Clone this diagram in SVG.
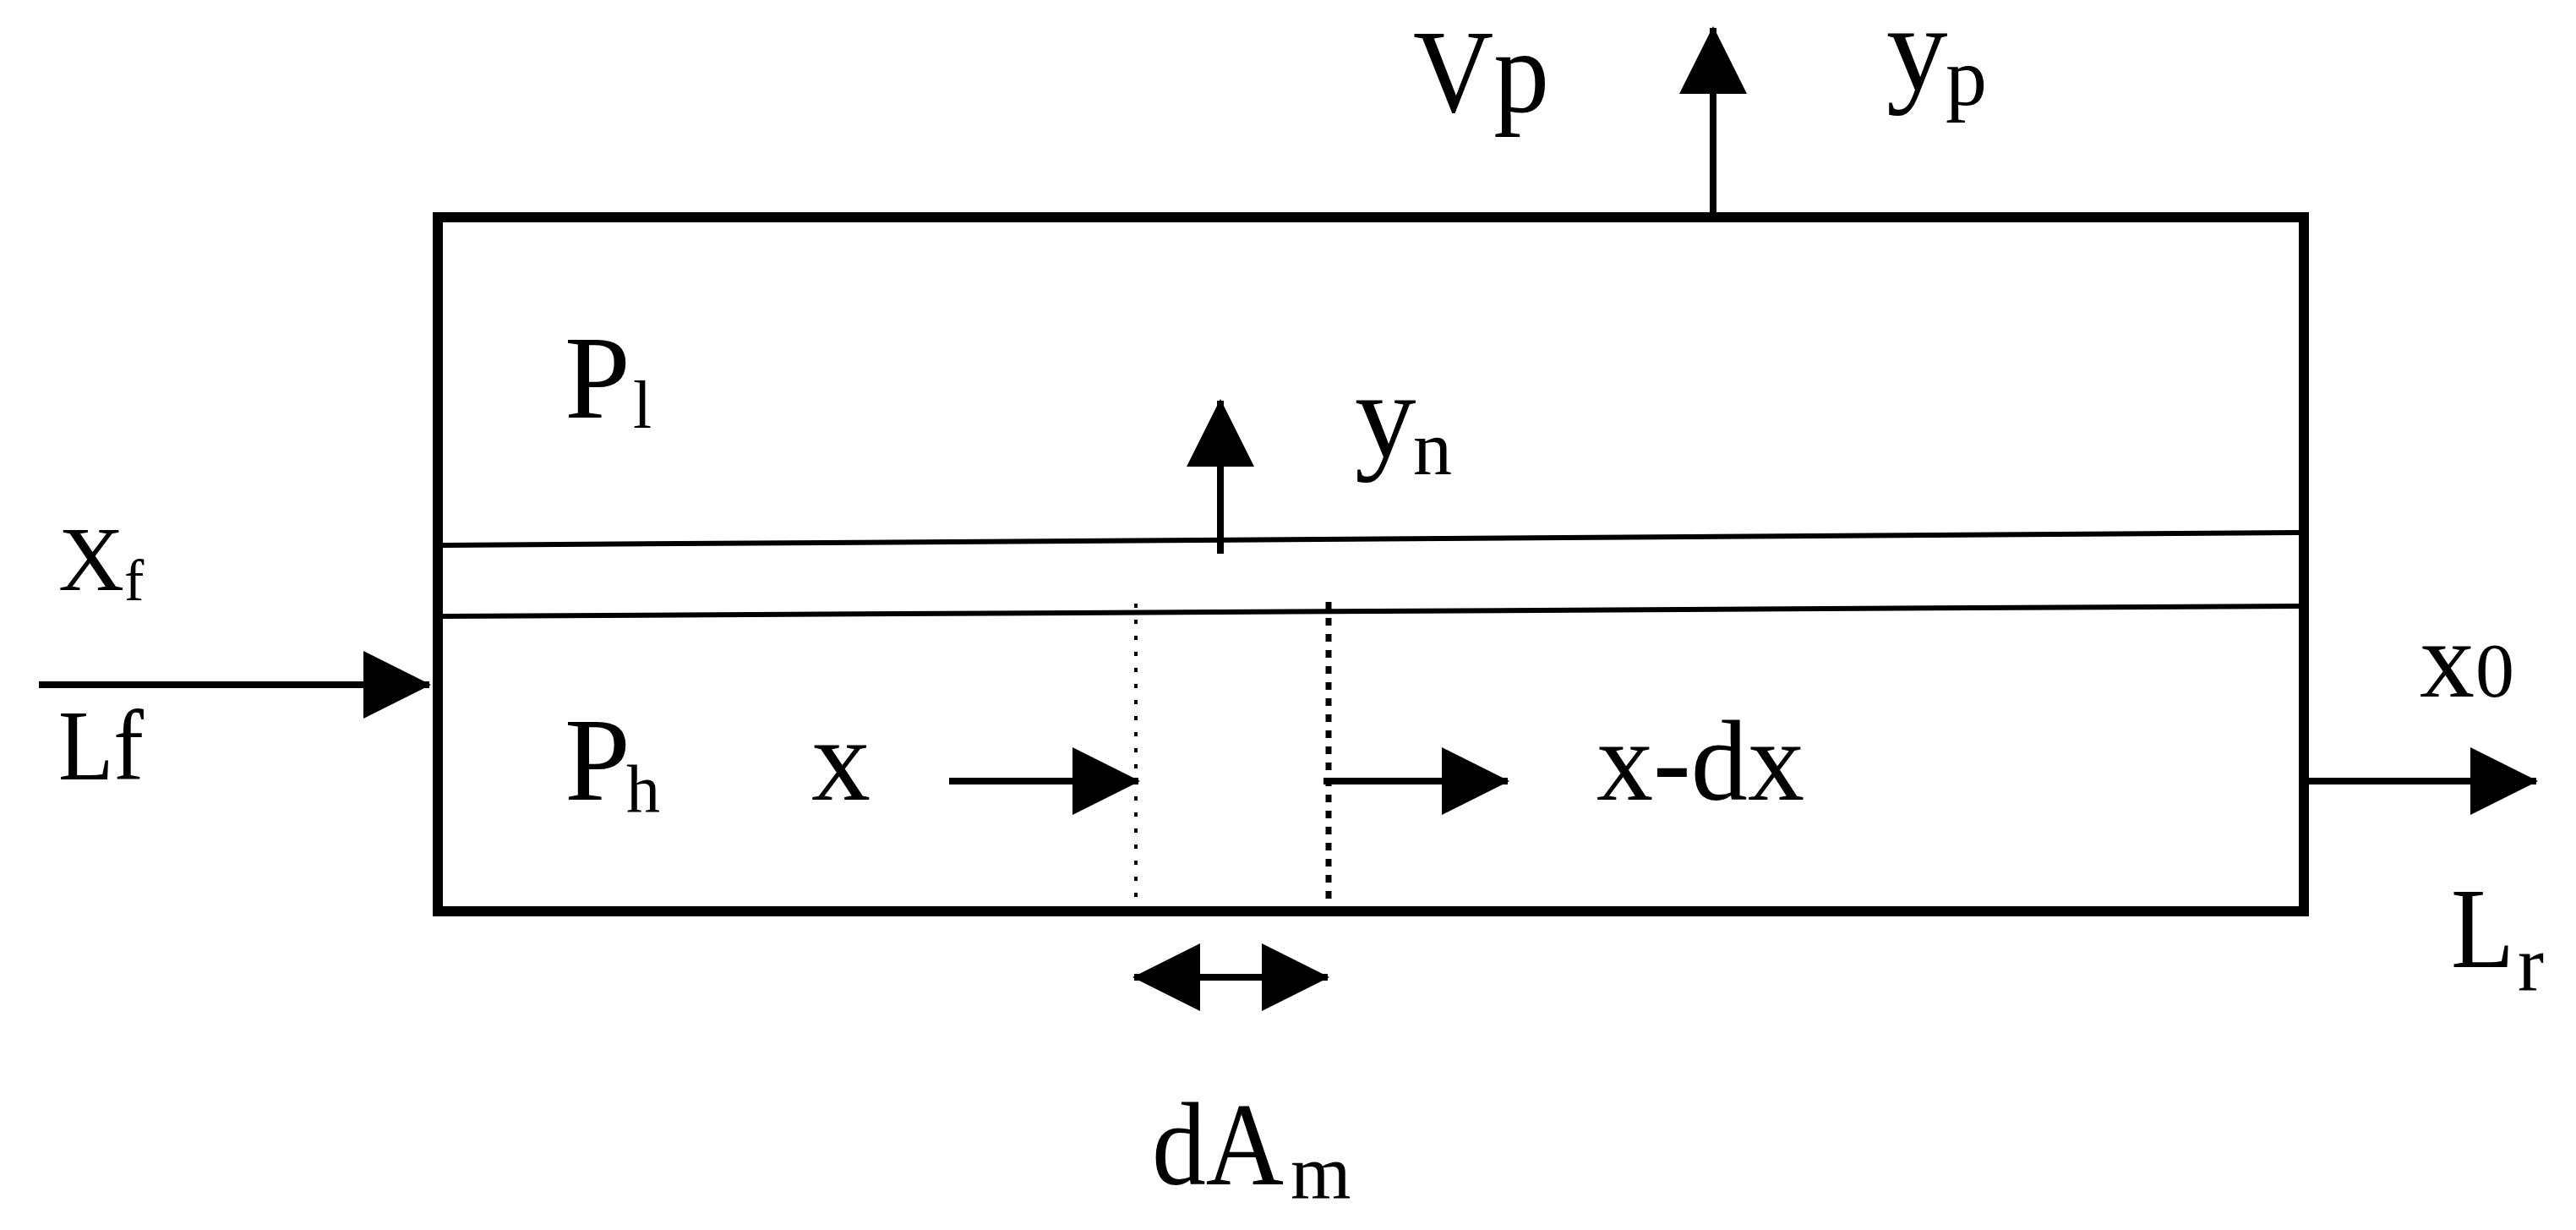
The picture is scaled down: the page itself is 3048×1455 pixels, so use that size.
<svg xmlns="http://www.w3.org/2000/svg" width="3048" height="1455" viewBox="0 0 3048 1455">
<style>
  text { font-family: "Liberation Serif", "Times New Roman", serif; fill: #000; }
  .lbl { font-size: 140px; }
  .sub { font-size: 92px; }
  .arrow { stroke: #000; stroke-width: 8; fill: none; }
  .mem { stroke: #000; stroke-width: 6; fill: none; }
</style>
<defs>
  <marker id="ah" markerUnits="userSpaceOnUse" markerWidth="80" markerHeight="80" refX="78" refY="40" orient="auto-start-reverse" viewBox="0 0 80 80">
    <path d="M0,0 L80,40 L0,80 Z" fill="#000"/>
  </marker>
</defs>
<rect width="3048" height="1455" fill="#fff"/>

<g id="module">
  <rect x="518" y="257" width="2208" height="821" fill="none" stroke="#000" stroke-width="12"/>
  <line class="mem" x1="524" y1="645" x2="2720" y2="630"/>
  <line class="mem" x1="524" y1="729" x2="2720" y2="717"/>
  <line x1="1344" y1="714" x2="1344" y2="1072" stroke="#000" stroke-width="4" stroke-dasharray="5 14"/>
  <line x1="1572" y1="712" x2="1572" y2="1072" stroke="#000" stroke-width="7" stroke-dasharray="9 10"/>
</g>

<g id="connectors">
  <line class="arrow" x1="46" y1="810" x2="508" y2="810" marker-end="url(#ah)"/>
  <line class="arrow" x1="2027" y1="257" x2="2027" y2="33" marker-end="url(#ah)"/>
  <line class="arrow" x1="1444" y1="655" x2="1444" y2="474" marker-end="url(#ah)"/>
  <line class="arrow" x1="1123" y1="924" x2="1347" y2="924" marker-end="url(#ah)"/>
  <line class="arrow" x1="1566" y1="924" x2="1784" y2="924" marker-end="url(#ah)"/>
  <line class="arrow" x1="2732" y1="924" x2="3001" y2="924" marker-end="url(#ah)"/>
  <line class="arrow" x1="1342" y1="1156" x2="1571" y2="1156" marker-start="url(#ah)" marker-end="url(#ah)"/>
</g>

<g id="label-Pl"><text class="lbl" x="668" y="494">P</text><text class="sub" x="749" y="506" style="font-size:80px">l</text></g>
<g id="label-Ph"><text class="lbl" x="668" y="946">P</text><text class="sub" x="741" y="960" style="font-size:80px">h</text></g>
<g id="label-Vp"><text class="lbl" x="1672" y="132" textLength="161" lengthAdjust="spacingAndGlyphs">Vp</text></g>
<g id="label-yp"><text class="lbl" x="2232" y="106" style="font-size:145px">y</text><text class="sub" x="2302" y="124" style="font-size:98px">p</text></g>
<g id="label-yn"><text class="lbl" x="1603" y="540" style="font-size:145px">y</text><text class="sub" x="1672" y="561">n</text></g>
<g id="label-Xf"><text class="lbl" x="69" y="698" style="font-size:108px">X</text><text class="sub" x="147" y="710" style="font-size:70px">f</text></g>
<g id="label-Lf"><text class="lbl" x="69" y="922" style="font-size:118px" textLength="101" lengthAdjust="spacingAndGlyphs">Lf</text></g>
<g id="label-x"><text class="lbl" x="960" y="946">x</text></g>
<g id="label-xdx"><text class="lbl" x="1889" y="946" style="font-size:136px" textLength="246" lengthAdjust="spacingAndGlyphs">x-dx</text></g>
<g id="label-x0"><text class="lbl" x="2863" y="824" style="font-size:130px">x</text><text class="sub" x="2929" y="824">0</text></g>
<g id="label-Lr"><text class="lbl" x="2900" y="1144" style="font-size:136px" textLength="75" lengthAdjust="spacingAndGlyphs">L</text><text class="sub" x="2979" y="1171" style="font-size:93px">r</text></g>
<g id="label-dAm"><text class="lbl" x="1363" y="1401" textLength="156" lengthAdjust="spacingAndGlyphs">dA</text><text class="sub" x="1527" y="1418" style="font-size:92px">m</text></g>
</svg>
